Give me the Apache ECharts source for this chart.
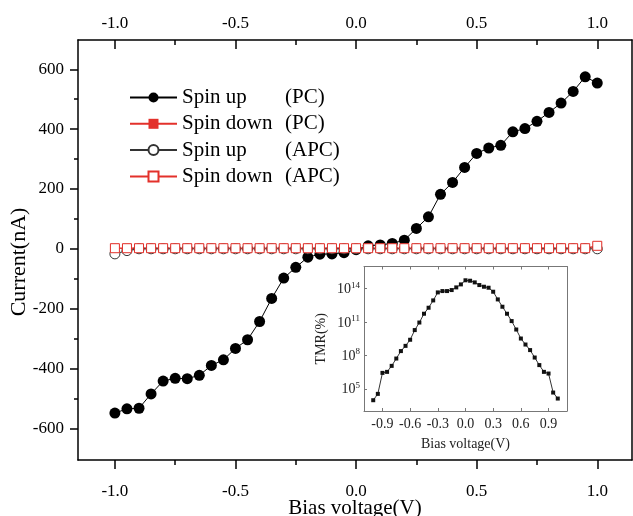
<!DOCTYPE html>
<html><head><meta charset="utf-8">
<script src="https://cdn.jsdelivr.net/npm/echarts@6/dist/echarts.min.js"></script>
<style>html,body{margin:0;padding:0;background:#fff}#c{width:633px;height:516px}</style>
</head><body><div id="c"></div>
<script>
// Bias voltage (V)
const voltage = [-1.00,-0.95,-0.90,-0.85,-0.80,-0.75,-0.70,-0.65,-0.60,-0.55,-0.50,-0.45,-0.40,-0.35,-0.30,-0.25,-0.20,-0.15,-0.10,-0.05,
  0.00,0.05,0.10,0.15,0.20,0.25,0.30,0.35,0.40,0.45,0.50,0.55,0.60,0.65,0.70,0.75,0.80,0.85,0.90,0.95,1.00];
// Current (nA)
const spinUpPC = [-549,-535,-533,-485,-442,-433,-434,-423,-390,-371,-333,-304,-243,-166,-98,-62,-28,-18,-17,-13,
  -3,10,13,18,29,68,107,182,222,272,319,337,346,391,402,426,456,487,526,575,554];
const spinDownPC = [2,2,2,2,2,2,2,2,2,2,2,2,2,2,2,2,2,2,2,2,2,2,2,2,2,2,2,2,2,2,2,2,2,2,2,2,2,2,2,2,8];
const spinUpAPC = [-17,-6,0,0,0,0,0,0,0,0,0,0,0,0,0,0,0,0,0,0,0,0,0,0,0,0,0,0,0,0,0,0,0,0,0,0,0,0,0,0,0];
const spinDownAPC = [2,2,2,2,2,2,2,2,2,2,2,2,2,2,2,2,2,2,2,2,2,2,2,2,2,2,2,2,2,2,2,2,2,2,2,2,2,2,2,2,10];
// Inset: log10 of TMR(%)
const tmrLog10 = [3.97,4.54,6.43,6.52,7.06,7.72,8.39,8.86,9.41,10.28,10.96,11.75,12.29,12.95,13.67,13.79,13.79,13.88,14.12,14.39,
  14.76,14.72,14.57,14.33,14.18,14.09,13.73,13.04,12.38,11.75,11.09,10.33,9.52,8.98,8.48,7.81,7.13,6.52,6.37,4.66,4.12];

const seriesNames = ['Spin up (PC)','Spin down (PC)','Spin up (APC)','Spin down (APC)'];
const xMajor = [-1.0,-0.5,0.0,0.5,1.0];
const xMinor = [-0.75,-0.25,0.25,0.75];
const yMajor = [-600,-400,-200,0,200,400,600];
const yMinor = [-500,-300,-100,100,300,500];
const insetXTicks = [-0.9,-0.6,-0.3,0.0,0.3,0.6,0.9];
const insetYTicks = [5,8,11,14];

const FONT = 'Liberation Serif';
const RED = '#e3312b';
const pairs = arr => voltage.map((v,i)=>[v,arr[i]]);

const chart = echarts.init(document.getElementById('c'), null, {renderer:'canvas'});
const blk = {color:'#000', width:1.5};
const noSplit = {show:false};
const XMIN = -1.153, XMAX = 1.144;

const option = {
  animation:false,
  backgroundColor:'#fff',
  grid:[
    {left:78, top:40, width:554, height:420, outerBoundsMode:'none', containLabel:false},
    {left:364, top:266.5, width:203, height:144.5, show:true, backgroundColor:'#fff', borderWidth:0, outerBoundsMode:'none', containLabel:false}
  ],
  legend:{
    orient:'vertical', left:129, top:87, padding:0, itemGap:5.3, itemWidth:47, itemHeight:12.5,
    data:seriesNames,
    formatter: n => { const i = n.lastIndexOf(' ('); return '{a|'+n.slice(0,i)+'}{b|'+n.slice(i+1)+'}'; },
    textStyle:{fontFamily:FONT, fontSize:21, color:'#000',
      rich:{a:{width:103, fontFamily:FONT, fontSize:21, color:'#000'}, b:{fontFamily:FONT, fontSize:21, color:'#000'}}}
  },
  xAxis:[
    {gridIndex:0, type:'value', position:'bottom', min:XMIN, max:XMAX, splitLine:noSplit,
     axisLine:{onZero:false, lineStyle:blk},
     axisTick:{customValues:xMajor, length:9, lineStyle:blk},
     axisLabel:{customValues:xMajor, formatter:v=>v.toFixed(1), margin:23, fontFamily:FONT, fontSize:17, color:'#000'},
     name:'Bias voltage(V)', nameLocation:'middle', nameGap:38, nameMoveOverlap:false,
     nameTextStyle:{fontFamily:FONT, fontSize:21, color:'#000'}},
    {gridIndex:0, type:'value', position:'bottom', min:XMIN, max:XMAX, splitLine:noSplit,
     axisLine:{show:false, onZero:false}, axisTick:{customValues:xMinor, length:5, lineStyle:blk}, axisLabel:{show:false}},
    {gridIndex:0, type:'value', position:'top', min:XMIN, max:XMAX, splitLine:noSplit,
     axisLine:{onZero:false, lineStyle:blk},
     axisTick:{customValues:xMajor, length:9, inside:true, lineStyle:blk},
     axisLabel:{customValues:xMajor, formatter:v=>v.toFixed(1), margin:8, fontFamily:FONT, fontSize:17, color:'#000'}},
    {gridIndex:0, type:'value', position:'top', min:XMIN, max:XMAX, splitLine:noSplit,
     axisLine:{show:false, onZero:false}, axisTick:{customValues:xMinor, length:5, inside:true, lineStyle:blk}, axisLabel:{show:false}},
    {gridIndex:1, type:'value', position:'bottom', min:-1.1, max:1.1, splitLine:noSplit,
     axisLine:{onZero:false, lineStyle:{color:'#777', width:1}},
     axisTick:{customValues:insetXTicks, length:3, inside:true, lineStyle:{color:'#777'}},
     axisLabel:{customValues:insetXTicks, formatter:v=>v.toFixed(1), margin:6, fontFamily:FONT, fontSize:14, color:'#222'},
     name:'Bias voltage(V)', nameLocation:'middle', nameGap:26,
     nameTextStyle:{fontFamily:FONT, fontSize:14, color:'#222'}},
    {gridIndex:1, type:'value', position:'top', min:-1.1, max:1.1, splitLine:noSplit,
     axisLine:{onZero:false, lineStyle:{color:'#777', width:1}},
     axisTick:{customValues:insetXTicks, length:3, inside:true, lineStyle:{color:'#777'}},
     axisLabel:{show:false}}
  ],
  yAxis:[
    {gridIndex:0, type:'value', position:'left', min:-706, max:698, splitLine:noSplit,
     axisLine:{onZero:false, lineStyle:blk},
     axisTick:{customValues:yMajor, length:8, lineStyle:blk},
     axisLabel:{customValues:yMajor, margin:14, fontFamily:FONT, fontSize:17, color:'#000'},
     name:'Current(nA)', nameLocation:'middle', nameGap:48, nameMoveOverlap:false,
     nameTextStyle:{fontFamily:FONT, fontSize:22, color:'#000', padding:[0,24,0,0]}},
    {gridIndex:0, type:'value', position:'left', min:-706, max:698, splitLine:noSplit,
     axisLine:{show:false, onZero:false}, axisTick:{customValues:yMinor, length:4, lineStyle:blk}, axisLabel:{show:false}},
    {gridIndex:0, type:'value', position:'right', min:-706, max:698, splitLine:noSplit,
     axisLine:{onZero:false, lineStyle:blk}, axisTick:{show:false}, axisLabel:{show:false}},
    {gridIndex:1, type:'value', position:'left', min:3, max:16, splitLine:noSplit,
     axisLine:{onZero:false, lineStyle:{color:'#777', width:1}},
     axisTick:{customValues:insetYTicks, length:3, inside:true, lineStyle:{color:'#777'}},
     axisLabel:{customValues:insetYTicks, margin:4, formatter:v=>'{b|10}{s|'+v+'}',
       rich:{b:{fontFamily:FONT, fontSize:14, color:'#222', lineHeight:16, verticalAlign:'bottom'},
             s:{fontFamily:FONT, fontSize:9, color:'#222', lineHeight:9, verticalAlign:'top'}}},
     name:'TMR(%)', nameLocation:'middle', nameGap:36,
     nameTextStyle:{fontFamily:FONT, fontSize:14, color:'#222'}},
    {gridIndex:1, type:'value', position:'right', min:3, max:16, splitLine:noSplit,
     axisLine:{onZero:false, lineStyle:{color:'#777', width:1}}, axisTick:{show:false}, axisLabel:{show:false}}
  ],
  series:[
    {name:seriesNames[0], type:'line', xAxisIndex:0, yAxisIndex:0, data:pairs(spinUpPC),
     symbol:'circle', symbolSize:11, lineStyle:{color:'#000', width:1}, itemStyle:{color:'#000'}},
    {name:seriesNames[1], type:'line', xAxisIndex:0, yAxisIndex:0, data:pairs(spinDownPC),
     symbol:'rect', symbolSize:9, lineStyle:{color:RED, width:1}, itemStyle:{color:RED}},
    {name:seriesNames[2], type:'line', xAxisIndex:0, yAxisIndex:0, data:pairs(spinUpAPC),
     symbol:'circle', symbolSize:10, lineStyle:{color:'#333', width:1}, itemStyle:{color:'#fff', borderColor:'#333', borderWidth:1}},
    {name:seriesNames[3], type:'line', xAxisIndex:0, yAxisIndex:0, data:pairs(spinDownAPC),
     symbol:'rect', symbolSize:9, lineStyle:{color:RED, width:1}, itemStyle:{color:'#fff', borderColor:RED, borderWidth:1}},
    {name:'TMR', type:'line', xAxisIndex:4, yAxisIndex:3, data:pairs(tmrLog10),
     symbol:'rect', symbolSize:4, lineStyle:{color:'#333', width:1}, itemStyle:{color:'#111'}}
  ]
};
chart.setOption(option);
</script>
</body></html>
